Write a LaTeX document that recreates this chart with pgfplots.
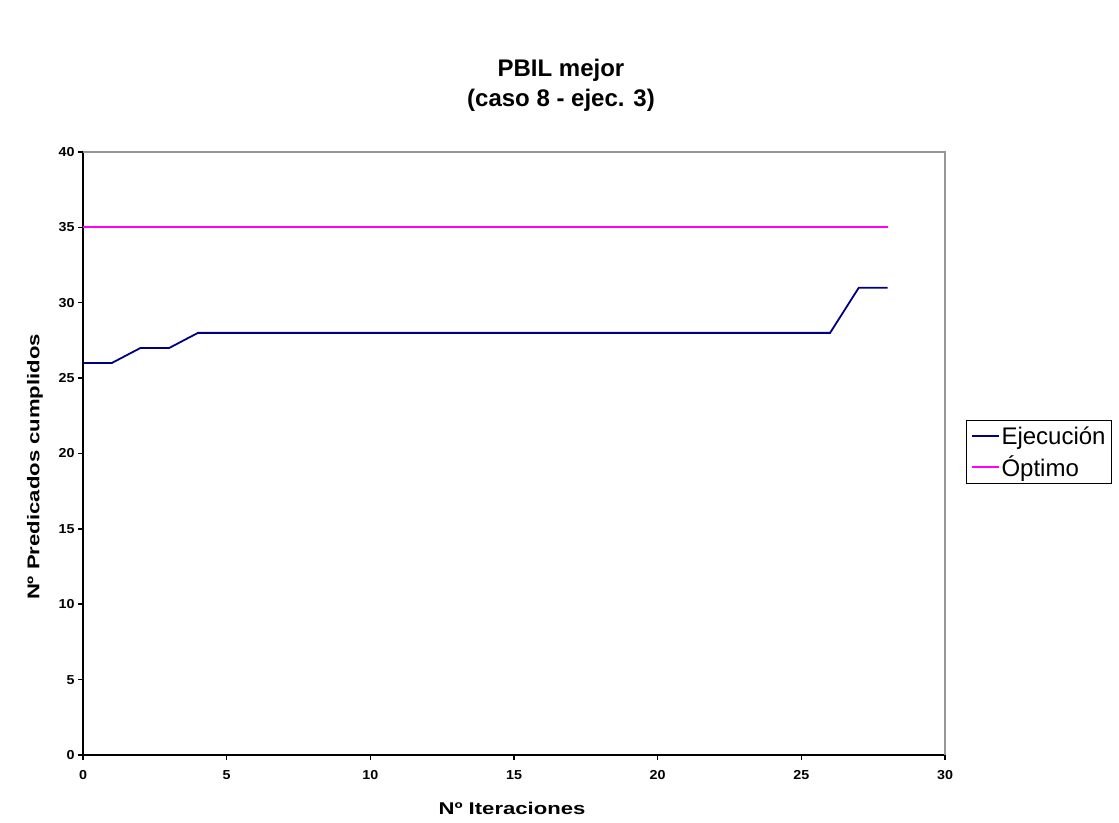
\documentclass[border=0pt]{standalone}
\usepackage{fontspec}
\setmainfont{Liberation Sans}
\newfontfamily\labelfont[FakeStretch=1.3]{Liberation Sans}
\newfontfamily\tickfont[FakeStretch=1.1]{Liberation Sans}
\usepackage{pgfplots}
\pgfplotsset{compat=1.18}
\definecolor{ejecblue}{RGB}{0,0,128}
\definecolor{optmag}{RGB}{255,0,255}
\definecolor{framegray}{RGB}{150,150,150}

\pgfplotstableread{
x y
0 26
1 26
2 27
3 27
4 28
5 28
6 28
7 28
8 28
9 28
10 28
11 28
12 28
13 28
14 28
15 28
16 28
17 28
18 28
19 28
20 28
21 28
22 28
23 28
24 28
25 28
26 28
27 31
28 31
}\ejecucion

\pgfplotstableread{
x y
0 35
28 35
}\optimo

\begin{document}
\begin{tikzpicture}
\useasboundingbox (0,0) rectangle (1119pt,822pt);
\begin{axis}[
  at={(83pt,67pt)}, anchor=south west,
  scale only axis, width=862pt, height=603pt,
  xmin=0, xmax=30, ymin=0, ymax=40,
  xtick distance=5, ytick distance=5,
  axis lines*=left,
  axis line style={line width=2.2pt, black},
  tick align=outside,
  major tick length=5pt,
  tick style={line width=1.5pt, black},
  /pgf/number format/assume math mode=true,
  ticklabel style={font=\tickfont\bfseries\fontsize{13}{15}\selectfont},
  xticklabel style={yshift=-7pt},
  legend style={at={(1.0244,0.5556)}, anchor=north west,
    draw=black, line width=1pt, inner xsep=4pt, inner ysep=5pt,
    font=\fontsize{24}{28}\selectfont,
    row sep=8pt, column sep=0pt,
    nodes={inner xsep=2pt, inner ysep=1pt}},
  legend cell align=left,
  legend image code/.code={\draw[#1, line width=2pt] (0pt,0pt) -- (27pt,0pt);},
  clip=false,
]
\addplot[ejecblue, line width=1.8pt] table {\ejecucion};
\addlegendentry{Ejecución}
\addplot[optmag, line width=1.8pt] table {\optimo};
\addlegendentry{Óptimo}
\draw[framegray, line width=1.8pt] (rel axis cs:0,1) -- (rel axis cs:1,1) -- (rel axis cs:1,0);
\end{axis}
\node[align=center, font=\bfseries\fontsize{24}{30}\selectfont] at (561pt,737pt)
  {PBIL mejor\\(caso 8 - ejec. 3)};
\node[rotate=90, font=\labelfont\bfseries\fontsize{17}{20}\selectfont] at (35pt,355pt)
  {Nº Predicados cumplidos};
\node[font=\labelfont\bfseries\fontsize{17}{20}\selectfont] at (512pt,14pt)
  {Nº Iteraciones};
\end{tikzpicture}
\end{document}
